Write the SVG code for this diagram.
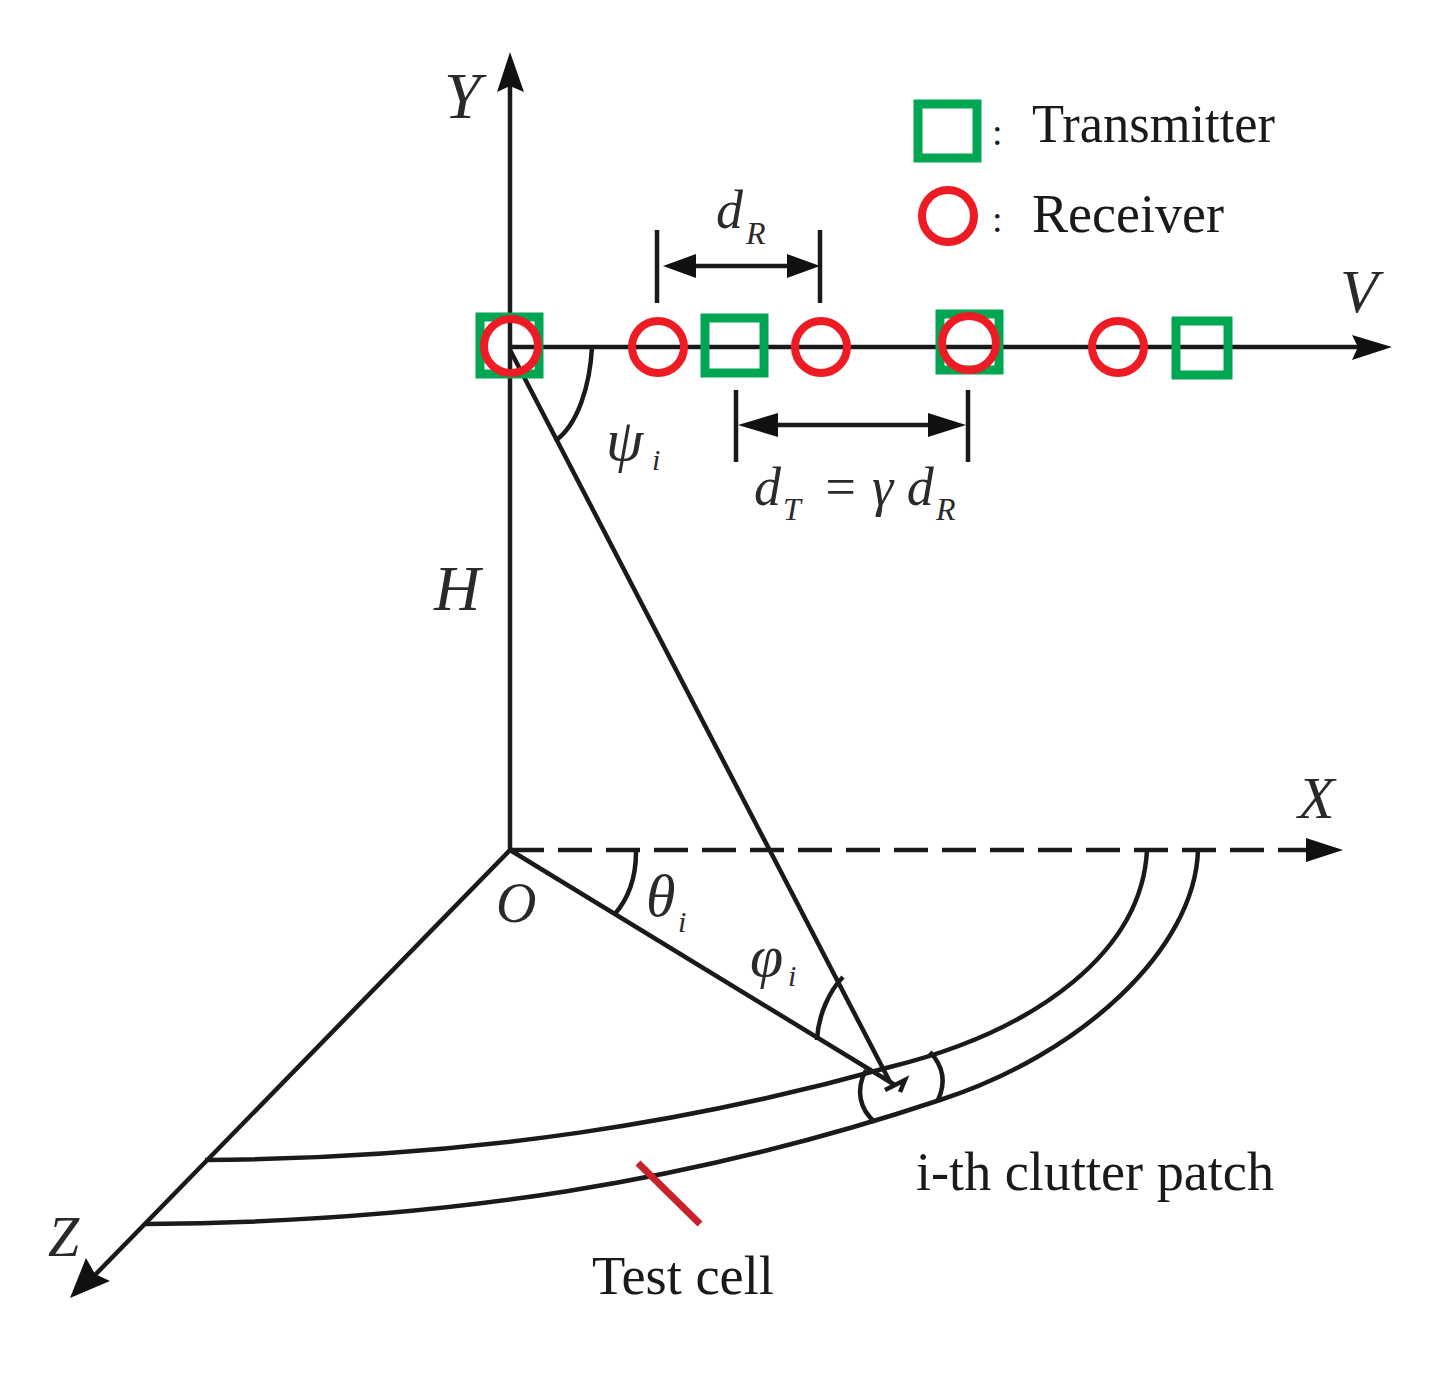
<svg xmlns="http://www.w3.org/2000/svg" width="1437" height="1380" viewBox="0 0 1437 1380">
<style>
.l{fill:none;stroke:#1a1a1a;stroke-width:4.5}
.t{fill:none;stroke:#00a651;stroke-width:9}
.r{fill:none;stroke:#ed1c24;stroke-width:8}
.s{font-family:"Liberation Serif",serif;fill:#1a1a1a}
.i{font-family:"Liberation Serif",serif;font-style:italic;fill:#2a2a2a}
.a{fill:#111;stroke:none}
</style>
<rect width="1437" height="1380" fill="#fff"/>
<g id="connectors">
<path class="l" d="M510 850V80"/><path class="a" d="M510 52L524 92L510 86L497 92Z"/>
<path class="l" d="M510 347H1360"/><path class="a" d="M1392 347L1352 360L1358 347L1352 335Z"/>
<path class="l" d="M510 850H1310" stroke-dasharray="34 14"/><path class="a" d="M1343 850L1306 838V862Z"/>
<path class="l" d="M510 850L95 1275"/><path class="a" d="M70 1298L86 1258L95 1274L110 1281Z"/>
<path class="l" d="M510 350L890 1082"/>
<path class="l" d="M510 850L895 1085"/>
<path class="l" d="M592 347C590 385 578 425 555 441"/>
<path class="l" d="M636 852C636 875 630 897 614 915"/>
<path class="l" d="M843 977C830 990 818 1015 817 1040"/>
<path class="l" d="M1147 850C1142 950 1040 1030 890 1067C700 1120 480 1158 205 1160"/>
<path class="l" d="M1198 850C1195 950 1080 1055 940 1100C700 1180 450 1222 145 1224"/>
<path class="l" d="M885 1090L905 1080L900 1092"/>
<path class="l" d="M866 1070C855 1090 860 1110 875 1122"/>
<path class="l" d="M930 1052C945 1068 945 1085 938 1100"/>
<path class="l" d="M657 230V303M820 230V303"/>
<path class="l" d="M690 266H790"/><path class="a" d="M663 266L696 254V278Z"/><path class="a" d="M820 266L787 254V278Z"/>
<path class="l" d="M736 390V462M968 390V462"/>
<path class="l" d="M770 425H935"/><path class="a" d="M738 425L778 413V437Z"/><path class="a" d="M966 425L928 413V437Z"/>
<path d="M638 1163L700 1224" fill="none" stroke="#c8232c" stroke-width="7"/>
</g>
<g id="tx1"><rect class="t" x="480" y="317" width="59" height="57"/></g>
<g id="rx1"><circle class="r" cx="511" cy="346" r="27"/></g>
<g id="rx2"><circle class="r" cx="658" cy="347" r="26"/></g>
<g id="tx2"><rect class="t" x="705" y="318" width="59" height="55"/></g>
<g id="rx3"><circle class="r" cx="821" cy="347" r="26"/></g>
<g id="tx3"><rect class="t" x="940" y="314" width="59" height="56"/></g>
<g id="rx4"><circle class="r" cx="969" cy="343" r="27"/></g>
<g id="rx5"><circle class="r" cx="1118" cy="347" r="26"/></g>
<g id="tx4"><rect class="t" x="1176" y="321" width="52" height="54"/></g>
<g id="legend">
<rect class="t" x="918" y="104" width="59" height="54"/>
<circle class="r" cx="948" cy="216" r="26"/>
<text class="s" x="992" y="145" font-size="38" fill="#bbb">:</text>
<text class="s" x="992" y="232" font-size="38">:</text>
<text class="s" x="1032" y="142" font-size="54" textLength="243" lengthAdjust="spacingAndGlyphs">Transmitter</text>
<text class="s" x="1032" y="232" font-size="54" textLength="192" lengthAdjust="spacingAndGlyphs">Receiver</text>
</g>
<g id="labels">
<text class="i" x="444" y="118" font-size="66">Y</text>
<text class="i" x="1340" y="312" font-size="62">V</text>
<text class="i" x="1298" y="818" font-size="60">X</text>
<text class="i" x="48" y="1256" font-size="56">Z</text>
<text class="i" x="434" y="610" font-size="64">H</text>
<text class="i" x="496" y="922" font-size="56">O</text>
<text class="i" x="716" y="228" font-size="54">d</text>
<text class="i" x="746" y="244" font-size="32">R</text>
<text class="i" x="754" y="505" font-size="54">d</text>
<text class="i" x="783" y="520" font-size="32">T</text>
<text class="i" x="822" y="505" font-size="54">= γ d</text>
<text class="i" x="936" y="520" font-size="32">R</text>
<text class="i" x="606" y="460" font-size="60">ψ</text>
<text class="i" x="652" y="470" font-size="30">i</text>
<text class="i" x="646" y="916" font-size="60">θ</text>
<text class="i" x="678" y="932" font-size="30">i</text>
<text class="i" x="750" y="976" font-size="60">φ</text>
<text class="i" x="788" y="986" font-size="30">i</text>
<text class="s" x="916" y="1190" font-size="54" textLength="358" lengthAdjust="spacingAndGlyphs">i-th clutter patch</text>
<text class="s" x="592" y="1294" font-size="54" textLength="182" lengthAdjust="spacingAndGlyphs">Test cell</text>
</g>
</svg>
